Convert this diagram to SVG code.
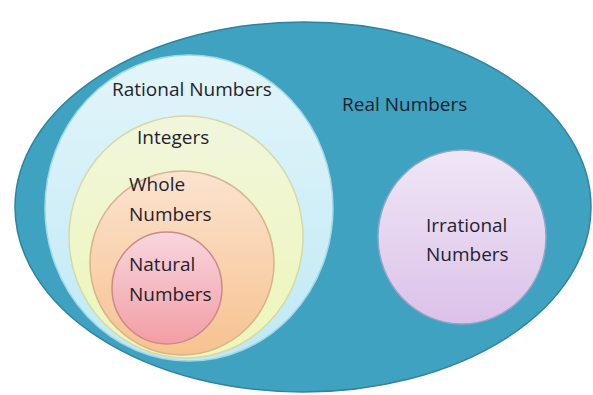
<svg xmlns="http://www.w3.org/2000/svg" width="593" height="395" viewBox="0 0 593 395">
<defs>
<linearGradient id="gRat" x1="0" y1="0" x2="0" y2="1"><stop offset="0" stop-color="#e3f5fa"/><stop offset="1" stop-color="#bfe9f5"/></linearGradient>
<linearGradient id="gInt" x1="0" y1="0" x2="0" y2="1"><stop offset="0" stop-color="#f1f6dc"/><stop offset="1" stop-color="#eef6b8"/></linearGradient>
<linearGradient id="gWho" x1="0" y1="0" x2="0" y2="1"><stop offset="0" stop-color="#fbe3cf"/><stop offset="1" stop-color="#f7c28f"/></linearGradient>
<linearGradient id="gNat" x1="0" y1="0" x2="0" y2="1"><stop offset="0" stop-color="#f8d6de"/><stop offset="1" stop-color="#f39ea4"/></linearGradient>
<linearGradient id="gIrr" x1="0" y1="0" x2="0" y2="1"><stop offset="0" stop-color="#efe7f6"/><stop offset="1" stop-color="#dcc1e9"/></linearGradient>
</defs>
<style>
.t{font-family:"Open Sans","Liberation Sans",sans-serif;font-size:19px;fill:#1f1f2e}
.b{stroke-width:1.5}
</style>
<rect width="593" height="395" fill="#ffffff"/>
<g id="real">
<ellipse cx="303" cy="207" rx="288" ry="185" fill="#3fa2c0" stroke="#2e84a0" class="b"/>
<text class="t" x="342" y="111">Real Numbers</text>
</g>
<g id="rational">
<ellipse cx="189" cy="208" rx="144" ry="153" fill="url(#gRat)" stroke="#9fd8e8" class="b"/>
<text class="t" x="112" y="96">Rational Numbers</text>
</g>
<g id="integers">
<ellipse cx="186" cy="237" rx="117" ry="121" fill="url(#gInt)" stroke="#d6d8a8" class="b"/>
<text class="t" x="137" y="144">Integers</text>
</g>
<g id="whole">
<ellipse cx="182" cy="263" rx="92" ry="92" fill="url(#gWho)" stroke="#d6b48e" class="b"/>
<text class="t" x="129" y="191">Whole</text>
<text class="t" x="129" y="221">Numbers</text>
</g>
<g id="natural">
<ellipse cx="167" cy="288" rx="55" ry="56" fill="url(#gNat)" stroke="#c98a8a" class="b"/>
<text class="t" x="129" y="271">Natural</text>
<text class="t" x="129" y="301">Numbers</text>
</g>
<g id="irrational">
<ellipse cx="462" cy="237" rx="84" ry="87" fill="url(#gIrr)" stroke="#8fa6c8" class="b"/>
<text class="t" x="426" y="232">Irrational</text>
<text class="t" x="426" y="261">Numbers</text>
</g>
<g id="connectors"/>
</svg>
